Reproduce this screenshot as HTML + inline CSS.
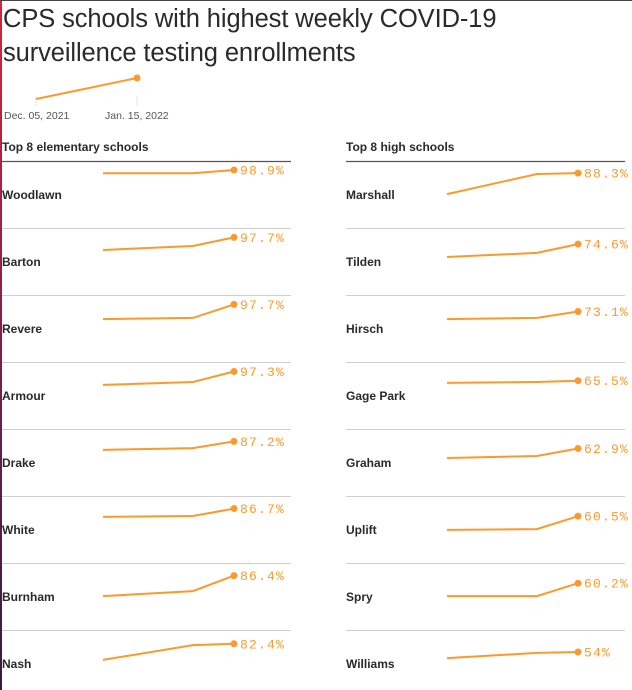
<!DOCTYPE html>
<html><head><meta charset="utf-8"><style>
body{margin:0;width:632px;height:690px;overflow:hidden;background:#fff;font-family:"Liberation Sans",sans-serif;position:relative}
#edge{position:absolute;left:0;top:0;width:2px;height:690px;background:linear-gradient(#d8243c,#5a1f4e 70%,#3a1a3e)}
#topline{position:absolute;left:0;top:0;width:632px;height:1px;background:#444}
h1{position:absolute;left:3px;top:2px;margin:0;font-weight:normal;font-size:25.5px;line-height:34px;color:#2a2a2a;letter-spacing:-0.1px}
svg{position:absolute;left:0;top:0}
</style></head><body>
<div id="edge"></div>
<div id="topline"></div>
<h1>CPS schools with highest weekly COVID-19<br>surveillence testing enrollments</h1>
<svg id="chart" width="632" height="690"></svg>
<script>
const elemNames=["Woodlawn","Barton","Revere","Armour","Drake","White","Burnham","Nash"];
const elemStart=[88,54,47,51,58,58,16,27];
const elemMid=[88,68,51,61,64,61,33,78];
const elemEnd=[98.9,97.7,97.7,97.3,87.2,86.7,86.4,82.4];
const elemLabels=["98.9%","97.7%","97.7%","97.3%","87.2%","86.7%","86.4%","82.4%"];
const highNames=["Marshall","Tilden","Hirsch","Gage Park","Graham","Uplift","Spry","Williams"];
const highStart=[16,30,47,58,30,13,16,33];
const highMid=[85,44,51,61,37,16,16,51];
const highEnd=[88.3,74.6,73.1,65.5,62.9,60.5,60.2,54];
const highLabels=["88.3%","74.6%","73.1%","65.5%","62.9%","60.5%","60.2%","54%"];
const legendDates=["Dec. 05, 2021","Jan. 15, 2022"];

const NS="http://www.w3.org/2000/svg";
const svg=document.getElementById('chart');
function mk(tag,attrs,parent){const e=document.createElementNS(NS,tag);for(const k in attrs)e.setAttribute(k,attrs[k]);(parent||svg).appendChild(e);return e;}
const ORANGE="#fb9a2c";
const ROW0=161,ROWH=67;
function yScale(v,top){return top+37.7-0.29*v;}

const lg=mk('g',{});


[36,137].forEach((x,i)=>{
  const t=mk('line',{x1:x,x2:x,y1:96,y2:106,stroke:'#e4e4e4','stroke-width':1},lg);
  
  
  const tx=mk('text',{x:i?105:4,y:119,'font-size':10.5,fill:'#555'},lg);
  tx.textContent=legendDates[i];
  
  
});
const ll=mk('line',{x1:36,y1:99,x2:137,y2:78,stroke:ORANGE,'stroke-width':2},lg);


const lc=mk('circle',{cx:137,cy:78,r:3.5,fill:ORANGE},lg);



function panel(x0,width,title,names,s,m,e,labels,name){
  const g=mk('g',{});
  
  
  const h=mk('text',{x:x0,y:151,'font-size':12,'font-weight':'bold',fill:'#2a2a2a'},g);
  h.textContent=title;
  
  
  const sx=[x0+101,x0+191,x0+232];
  names.forEach((n,i)=>{
    const top=ROW0+i*ROWH;
    const r=mk('line',{x1:x0,x2:x0+width,y1:top+0.5,y2:top+0.5,stroke:i?'#cfcfcf':'#555','stroke-width':i?1:1.3},g);
    
    
    const t=mk('text',{x:x0,y:top+38,'font-size':12,'font-weight':'bold',fill:'#2a2a2a'},g);
    t.textContent=n;
    
    
    const vals=[s[i],m[i],e[i]];
    const pts=vals.map((v,j)=>sx[j]+','+yScale(v,top).toFixed(1)).join(' ');
    const pl=mk('polyline',{points:pts,fill:'none',stroke:ORANGE,'stroke-width':2},g);
    
    
    const c=mk('circle',{cx:sx[2],cy:yScale(e[i],top),r:3.5,fill:ORANGE},g);
    
    
    const vl=mk('text',{x:sx[2]+6,y:yScale(e[i],top)+4.5,'font-size':13,fill:ORANGE,'font-family':'Liberation Mono, monospace','letter-spacing':'1.2'},g);
    vl.textContent=labels[i];
    
    
  });
}
panel(2,289,"Top 8 elementary schools",elemNames,elemStart,elemMid,elemEnd,elemLabels,'elementary-panel');
panel(346,279,"Top 8 high schools",highNames,highStart,highMid,highEnd,highLabels,'high-school-panel');
</script>
</body></html>
